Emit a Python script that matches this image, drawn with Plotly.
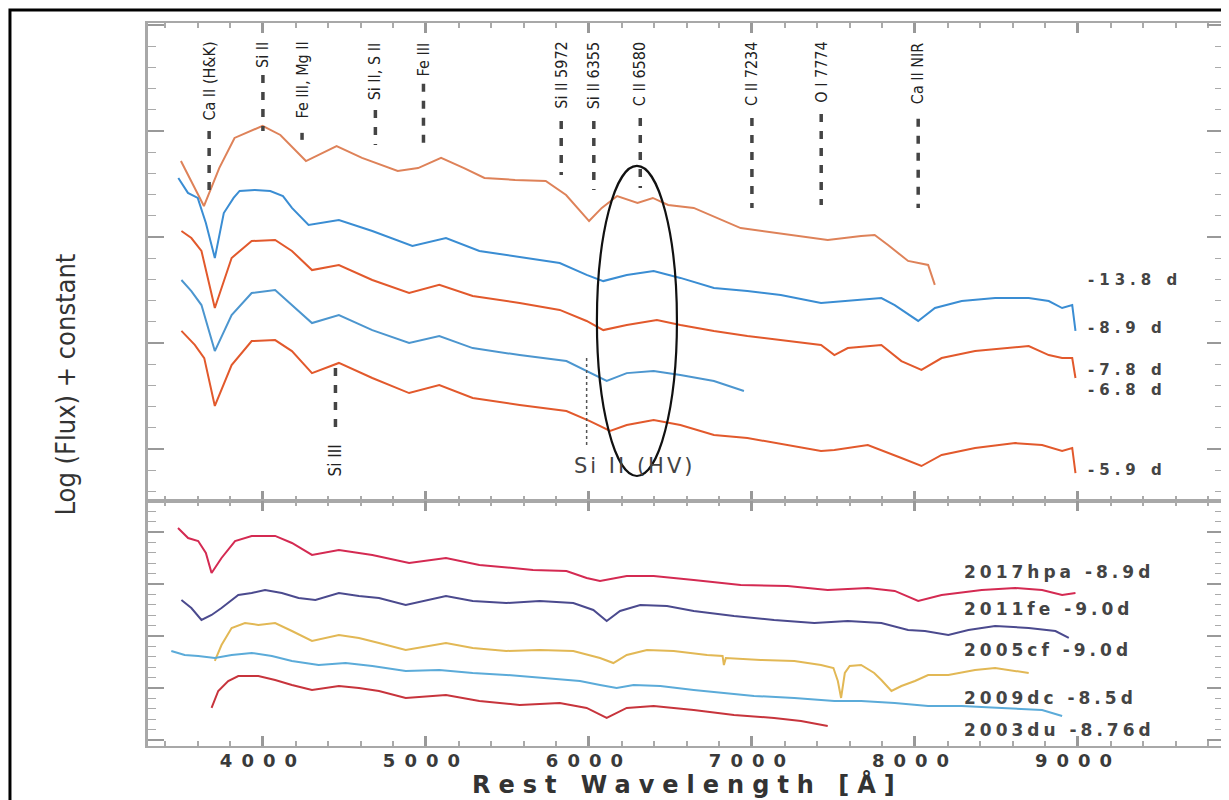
import plotly.graph_objects as go
from plotly.subplots import make_subplots

# ---------------- data ----------------
# Top panel: SN 2017hpa spectra, Log(Flux) + constant (arbitrary units)
top_labels = ["-13.8 d", "-8.9 d", "-7.8 d", "-6.8 d", "-5.9 d"]

wl_m138 = [3497, 3638, 3732, 3826, 3998, 4107, 4264, 4452, 4608, 4827, 4952, 5093, 5234, 5359, 5547,
           5735, 5860, 6001, 6079, 6173, 6298, 6392, 6486, 6643, 6931, 7300, 7465, 7670, 7753, 7835,
           7958, 8081, 8122]
fx_m138 = [13.58, 11.46, 13.25, 14.67, 15.24, 14.81, 13.58, 14.29, 13.73, 13.11, 13.25, 13.73, 13.25, 12.78, 12.69,
           12.64, 11.98, 10.75, 11.37, 11.93, 11.60, 11.84, 11.51, 11.37, 10.42, 10.05, 9.86, 10.05, 10.09, 9.62,
           8.87, 8.68, 7.74]

wl_m89 = [3481, 3540, 3600, 3650, 3705, 3760, 3820, 3857, 3950, 4045, 4123, 4178, 4280, 4466, 4671,
          4917, 5123, 5328, 5616, 5821, 5986, 6088, 6232, 6397, 6561, 6767, 6972, 7177, 7424, 7670,
          7794, 7876, 8020, 8123, 8287, 8492, 8698, 8821, 8903, 8965, 8985]
fx_m89 = [12.78, 12.08, 11.84, 10.66, 9.01, 11.13, 11.84, 12.17, 12.22, 12.17, 11.93, 11.37, 10.57, 10.80, 10.28,
          9.58, 9.95, 9.34, 9.01, 8.77, 8.21, 7.92, 8.21, 8.40, 8.07, 7.59, 7.45, 7.26, 6.89, 7.03,
          7.12, 6.79, 6.04, 6.65, 6.98, 7.12, 7.12, 6.98, 6.65, 6.79, 5.57]

wl_m78 = [3500, 3561, 3623, 3705, 3808, 3931, 4075, 4178, 4301, 4466, 4671, 4897, 5082, 5287, 5575,
          5821, 5986, 6088, 6232, 6417, 6561, 6767, 6972, 7219, 7424, 7506, 7588, 7794, 7917, 8040,
          8164, 8369, 8574, 8698, 8821, 8903, 8965, 8985]
fx_m78 = [10.28, 9.95, 9.34, 6.65, 9.01, 9.81, 9.86, 9.34, 8.44, 8.68, 7.97, 7.36, 7.74, 7.22, 6.89,
          6.56, 6.04, 5.61, 5.85, 6.08, 5.85, 5.57, 5.33, 5.09, 4.91, 4.43, 4.76, 4.91, 4.15, 3.73,
          4.29, 4.62, 4.76, 4.86, 4.43, 4.29, 4.29, 3.35]

wl_m68 = [3500, 3561, 3623, 3705, 3808, 3931, 4075, 4178, 4301, 4466, 4671, 4897, 5082, 5287, 5575,
          5862, 5986, 6109, 6232, 6397, 6561, 6767, 6951]
fx_m68 = [7.97, 7.45, 6.79, 4.62, 6.32, 7.36, 7.50, 6.79, 5.94, 6.32, 5.61, 5.00, 5.33, 4.76, 4.43,
          4.15, 3.68, 3.21, 3.58, 3.68, 3.49, 3.21, 2.74]

wl_m59 = [3500, 3582, 3640, 3705, 3808, 3931, 4075, 4178, 4301, 4466, 4671, 4897, 5082, 5287, 5575,
          5862, 6006, 6130, 6232, 6397, 6561, 6767, 6972, 7219, 7424, 7506, 7711, 7917, 8040, 8164,
          8369, 8615, 8780, 8903, 8965, 8985]
fx_m59 = [5.57, 4.91, 4.29, 2.03, 3.96, 5.09, 5.14, 4.62, 3.58, 4.06, 3.35, 2.64, 3.02, 2.41, 2.08,
          1.79, 1.32, 0.85, 1.13, 1.37, 1.13, 0.66, 0.52, 0.19, -0.09, -0.05, 0.19, -0.42, -0.80, -0.28,
          0.05, 0.28, 0.19, -0.09, 0.05, -1.13]

# Bottom panel: comparison SNe Ia
bottom_labels = ["2017hpa -8.9d", "2011fe -9.0d", "2005cf -9.0d", "2009dc -8.5d", "2003du -8.76d"]

wl_17hpa = [3479, 3541, 3603, 3650, 3685, 3746, 3829, 3931, 4075, 4178, 4301, 4466, 4671, 4897, 5123,
            5328, 5657, 5862, 5986, 6068, 6232, 6397, 6643, 6931, 7219, 7465, 7712, 7876, 8020, 8164,
            8410, 8615, 8780, 8903, 8985]
fx_17hpa = [15.38, 14.42, 14.13, 12.98, 11.06, 12.50, 14.13, 14.62, 14.62, 13.94, 12.79, 13.27, 12.79, 12.02, 12.50,
            11.83, 11.35, 11.25, 10.58, 10.29, 10.77, 10.77, 10.38, 9.90, 9.81, 9.42, 9.62, 9.33, 8.37, 8.94,
            9.42, 9.62, 9.42, 8.94, 9.13]

wl_11fe = [3500, 3561, 3623, 3685, 3746, 3849, 3931, 4013, 4116, 4219, 4322, 4466, 4589, 4712, 4876,
           5123, 5287, 5493, 5698, 5904, 6027, 6109, 6191, 6315, 6479, 6643, 6890, 7136, 7383, 7588,
           7794, 7958, 8061, 8205, 8328, 8492, 8698, 8862, 8944]
fx_11fe = [8.46, 7.69, 6.54, 7.02, 7.69, 8.94, 9.13, 9.42, 9.13, 8.65, 8.46, 9.13, 8.85, 8.65, 7.98,
           8.85, 8.37, 8.17, 8.37, 8.17, 7.50, 6.44, 7.40, 7.98, 7.88, 7.40, 6.92, 6.54, 6.25, 6.44,
           6.25, 5.58, 5.48, 5.10, 5.58, 5.96, 5.77, 5.48, 4.81]

wl_05cf = [3705, 3746, 3808, 3890, 3972, 4075, 4178, 4301, 4466, 4589, 4712, 4876, 5123, 5287, 5493,
           5698, 5904, 6068, 6150, 6232, 6356, 6520, 6725, 6820, 6828, 6840, 7054, 7260, 7424, 7500,
           7527, 7547, 7570, 7600, 7670, 7750, 7794, 7856, 7917, 8000, 8081, 8205, 8369, 8492, 8698]
fx_05cf = [2.60, 4.13, 5.77, 6.25, 6.06, 6.25, 5.48, 4.52, 5.10, 4.81, 4.33, 3.65, 4.33, 3.85, 3.56,
           3.65, 3.56, 2.88, 2.40, 3.17, 3.65, 3.56, 3.17, 3.08, 2.21, 2.88, 2.69, 2.60, 2.21, 1.92,
           0.67, -0.96, 1.44, 2.12, 2.21, 1.44, 0.77, -0.29, 0.19, 0.67, 1.25, 1.25, 1.73, 1.92, 1.44]

wl_09dc = [3438, 3520, 3603, 3705, 3808, 3931, 4055, 4178, 4342, 4507, 4671, 4876, 5082, 5287, 5493,
           5739, 5945, 6068, 6170, 6274, 6438, 6643, 6849, 7013, 7260, 7506, 7670, 7876, 8081, 8287,
           8533, 8780, 8903]
fx_09dc = [3.56, 3.17, 3.08, 2.88, 3.17, 3.37, 3.08, 2.60, 2.21, 2.40, 2.12, 1.63, 1.73, 1.44, 1.25,
           0.96, 0.67, 0.29, 0.00, 0.29, 0.19, -0.19, -0.48, -0.77, -0.96, -1.25, -1.25, -1.44, -1.73, -1.73,
           -1.92, -2.12, -2.69]

wl_03du = [3685, 3726, 3787, 3849, 3972, 4075, 4178, 4301, 4466, 4589, 4712, 4876, 5123, 5328, 5575,
           5821, 5986, 6109, 6232, 6397, 6643, 6890, 7136, 7301, 7465]
fx_03du = [-1.92, -0.29, 0.67, 1.15, 1.15, 0.77, 0.29, -0.19, 0.19, 0.00, -0.29, -0.96, -0.67, -1.25, -1.63,
           -1.44, -1.92, -2.88, -1.92, -1.73, -2.12, -2.60, -2.88, -3.17, -3.65]

# Line identifications (top of upper panel)
line_ids = ["Ca II (H&K)", "Si II", "Fe III, Mg II", "Si II, S II", "Fe III",
            "Si II 5972", "Si II 6355", "C II 6580", "C II 7234", "O I 7774", "Ca II NIR"]
line_wl = [3670, 4000, 4240, 4690, 4985, 5830, 6030, 6315, 7000, 7425, 8020]

# x tick labels
xtick_vals = [4000, 5000, 6000, 7000, 8000, 9000]
xtick_text = ["4000", "5000", "6000", "7000", "8000", "9000"]

# ---------------- layout / positions (not data) ----------------
top_series = [(wl_m138, fx_m138), (wl_m89, fx_m89), (wl_m78, fx_m78), (wl_m68, fx_m68), (wl_m59, fx_m59)]
top_colors = ["#DE8259", "#3A8DD3", "#E2592C", "#4C96CF", "#E2592C"]
top_label_y = [7.97, 5.71, 3.75, 2.80, -0.99]
top_label_x = 9049

bottom_series = [(wl_17hpa, fx_17hpa), (wl_11fe, fx_11fe), (wl_05cf, fx_05cf), (wl_09dc, fx_09dc), (wl_03du, fx_03du)]
bottom_colors = ["#D42A52", "#4B4A8E", "#E2B855", "#5BABD9", "#C7343C"]
bottom_label_y = [11.15, 7.60, 3.65, -0.96, -4.04]
bottom_label_x = 8288

mark_text_top = 19.29
mark_dash_start = [15.00, 17.64, 14.91, 15.99, 17.22, 15.47, 15.47, 15.61, 15.61, 15.80, 15.57]
mark_dash_end = [11.98, 15.00, 14.58, 14.34, 14.34, 12.92, 12.22, 12.31, 11.37, 11.51, 11.37]

COND = "DejaVu Sans Condensed, Liberation Sans Narrow, DejaVu Sans, sans-serif"
WIDE = "DejaVu Sans, Verdana, sans-serif"


def spaced(text, px):
    return f'<span style="letter-spacing:{px}px">{text}</span>'


fig = make_subplots(rows=2, cols=1, shared_xaxes=True, vertical_spacing=0,
                    row_heights=[478, 245])

for (wl, fx), col, lab in zip(top_series, top_colors, top_labels):
    fig.add_trace(go.Scatter(x=wl, y=fx, mode="lines", line=dict(color=col, width=2),
                             name=lab, showlegend=False), row=1, col=1)
for (wl, fx), col, lab in zip(bottom_series, bottom_colors, bottom_labels):
    fig.add_trace(go.Scatter(x=wl, y=fx, mode="lines", line=dict(color=col, width=2),
                             name=lab, showlegend=False), row=2, col=1)

annotations = []
shapes = []

# spectrum labels
for lab, yv in zip(top_labels, top_label_y):
    annotations.append(dict(x=top_label_x, y=yv, xref="x", yref="y", text=spaced(lab, 5),
                            showarrow=False, xanchor="left", yanchor="middle",
                            font=dict(family=WIDE, size=15, color="#444", weight="bold")))
for lab, yv in zip(bottom_labels, bottom_label_y):
    annotations.append(dict(x=bottom_label_x, y=yv, xref="x2", yref="y2", text=spaced(lab, 4),
                            showarrow=False, xanchor="left", yanchor="middle",
                            font=dict(family=WIDE, size=17, color="#444", weight="bold")))

# line identification markers
for lab, w, d0, d1 in zip(line_ids, line_wl, mark_dash_start, mark_dash_end):
    annotations.append(dict(x=w, y=mark_text_top, xref="x", yref="y", text=lab, textangle=-90,
                            showarrow=False, xanchor="center", yanchor="top",
                            font=dict(family=COND, size=16, color="#222")))
    shapes.append(dict(type="line", xref="x", yref="y", x0=w, x1=w, y0=d0, y1=d1,
                       line=dict(color="#444", width=3.5, dash="8px,9px")))

# Si III marker (bottom of upper panel)
annotations.append(dict(x=4445, y=-1.37, xref="x", yref="y", text="Si III", textangle=-90,
                        showarrow=False, xanchor="center", yanchor="bottom",
                        font=dict(family=COND, size=17, color="#222")))
shapes.append(dict(type="line", xref="x", yref="y", x0=4445, x1=4445, y0=3.82, y1=0.66,
                   line=dict(color="#444", width=3.5, dash="8px,9px")))

# Si II (HV)
annotations.append(dict(x=6282, y=-0.80, xref="x", yref="y", text=spaced("Si II (HV)", 3),
                        showarrow=False, xanchor="center", yanchor="middle",
                        font=dict(family=WIDE, size=21, color="#444")))
shapes.append(dict(type="line", xref="x", yref="y", x0=5986, x1=5986, y0=4.29, y1=0.19,
                   line=dict(color="#555", width=1.5, dash="dot")))

# ellipse around C II 6580
shapes.append(dict(type="circle", xref="x", yref="y", x0=6049, x1=6540, y0=-1.27, y1=13.35,
                   line=dict(color="#111", width=2.2)))

# axis titles
annotations.append(dict(x=-0.0772, y=0.5, xref="paper", yref="paper", text="Log (Flux) + constant",
                        textangle=-90, showarrow=False, xanchor="center", yanchor="middle",
                        font=dict(family=COND, size=27, color="#333")))
annotations.append(dict(x=0.5023, y=-0.0539, xref="paper", yref="paper",
                        text=spaced("Rest Wavelength [Å]", 8), showarrow=False,
                        xanchor="center", yanchor="middle",
                        font=dict(family=WIDE, size=24, color="#333", weight="bold")))

# outer frame
shapes.append(dict(type="rect", xref="paper", yref="paper", x0=-0.1284, x1=1.0102,
                   y0=-0.0816, y1=1.0180, line=dict(color="#000", width=3)))

axis_common = dict(showgrid=False, zeroline=False, showline=True, linecolor="#a8a8a8",
                   mirror="ticks", ticks="inside", tickcolor="#999")

fig.update_xaxes(range=[3295, 9890], tickvals=xtick_vals,
                 ticktext=[spaced(t, 9) for t in xtick_text],
                 ticklen=10, tickwidth=2.5, linewidth=2, ticklabelstandoff=-3,
                 minor=dict(ticks="inside", dtick=200, tick0=4000, ticklen=5, tickwidth=2, tickcolor="#aaa"),
                 tickfont=dict(family=WIDE, size=18, color="#3a3a3a", weight="bold"),
                 **axis_common)
fig.update_xaxes(showticklabels=False, row=1, col=1)

fig.update_yaxes(showticklabels=False, tick0=0, dtick=5, ticklen=16, tickwidth=1.5, linewidth=2.5,
                 minor=dict(ticks="inside", dtick=1, tick0=0, ticklen=8, tickwidth=1.2, tickcolor="#aaa"),
                 **axis_common)
fig.update_yaxes(range=[-2.45, 20.09], row=1, col=1)
fig.update_yaxes(range=[-5.58, 17.98], row=2, col=1)

fig.update_layout(width=1229, height=800, margin=dict(l=140, r=14, t=15, b=62),
                  paper_bgcolor="white", plot_bgcolor="white",
                  annotations=annotations, shapes=shapes, showlegend=False)

fig.write_html("out.html")
